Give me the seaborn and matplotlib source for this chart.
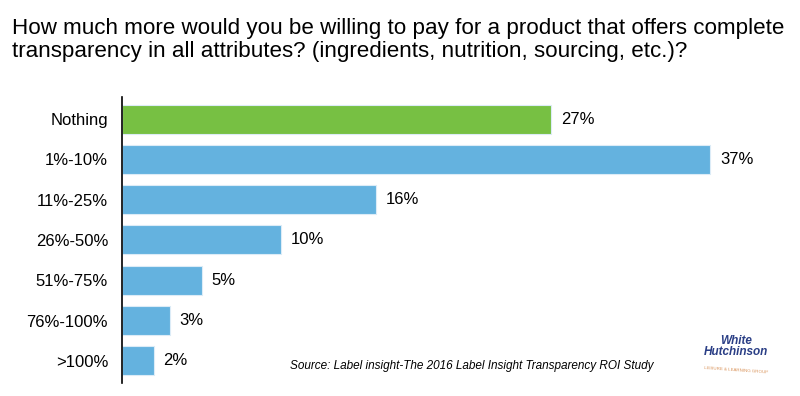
import matplotlib
matplotlib.use("Agg")
import matplotlib.pyplot as plt
import seaborn as sns
import pandas as pd

categories = ["Nothing", "1%-10%", "11%-25%", "26%-50%", "51%-75%", "76%-100%", ">100%"]
values = [27, 37, 16, 10, 5, 3, 2]
bar_colors = ["#77C043", "#64B2DF", "#64B2DF", "#64B2DF", "#64B2DF", "#64B2DF", "#64B2DF"]

title = ("How much more would you be willing to pay for a product that offers complete\n"
         "transparency in all attributes? (ingredients, nutrition, sourcing, etc.)?")
source = "Source: Label insight-The 2016 Label Insight Transparency ROI Study"

sns.set_style("white")
plt.rcParams["font.family"] = ["Liberation Sans Narrow", "Liberation Sans", "DejaVu Sans"]
plt.rcParams["text.color"] = "black"
plt.rcParams["ytick.color"] = "black"

df = pd.DataFrame({"cat": categories, "val": values})

fig = plt.figure(figsize=(8, 3.96), dpi=100)
ax = fig.add_axes([0.1525, 0.033, 0.795, 0.722])
sns.barplot(data=df, x="val", y="cat", hue="cat", palette=bar_colors, saturation=1,
            legend=False, width=0.72, edgecolor="#dcecf7", linewidth=0.8, ax=ax)

ax.set_xlim(0, 40)
ax.set_ylim(6.55, -0.55)
ax.set_xlabel("")
ax.set_ylabel("")
ax.set_xticks([])
for s in ["top", "right", "bottom"]:
    ax.spines[s].set_visible(False)
ax.spines["left"].set_color("black")
ax.spines["left"].set_linewidth(1.2)
ax.tick_params(axis="y", length=0, pad=10, labelcolor="black")
for lab in ax.get_yticklabels():
    lab.set_fontfamily(["Liberation Sans", "DejaVu Sans"])
    lab.set_fontsize(12)

for i, v in enumerate(values):
    ax.text(v + 0.6, i, f"{v}%", va="center", ha="left", fontsize=12, color="black",
            family=["Liberation Sans", "DejaVu Sans"], clip_on=False)

fig.text(0.015, 0.955, title, ha="left", va="top", fontsize=16.1, linespacing=1.12,
         color="black")
fig.text(0.362, 0.075, source, ha="left", va="center", fontsize=8.5, style="italic",
         color="black", family=["Liberation Sans", "DejaVu Sans"])
fig.text(0.92, 0.125, "White\nHutchinson", ha="center", va="center", fontsize=8.5,
         style="italic", weight="bold", color="#2b3f86", linespacing=0.8,
         family=["Liberation Sans Narrow", "Liberation Sans", "DejaVu Sans"])
fig.text(0.92, 0.065, "LEISURE & LEARNING GROUP", ha="center", va="center", fontsize=3.2,
         color="#d9935a", rotation=-4)

fig.savefig("out.png", dpi=100, facecolor="white")
